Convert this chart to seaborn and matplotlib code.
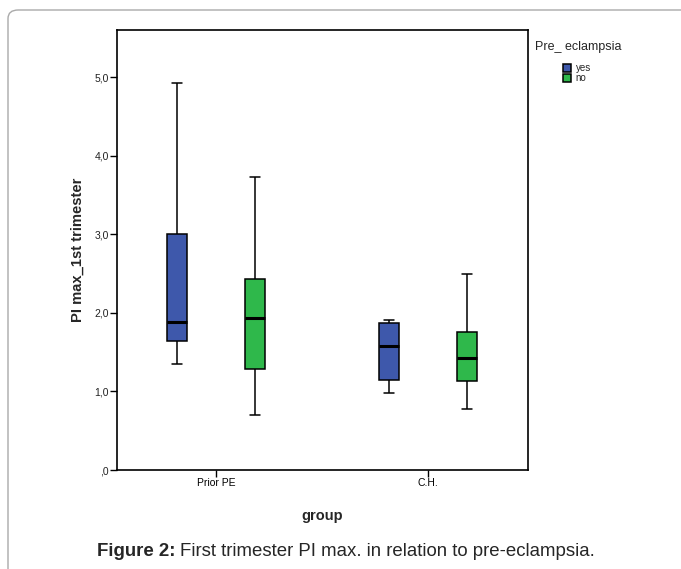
import numpy as np
import pandas as pd
import matplotlib
matplotlib.use("Agg")
import matplotlib.pyplot as plt
import seaborn as sns
from matplotlib.patches import FancyBboxPatch

# Data (min, Q1, median, Q3, max per box)
groups = ["Prior PE", "C.H."]
hue_levels = ["yes", "no"]
prior_yes = [1.35, 1.64, 1.89, 3.01, 4.92]
prior_no = [0.70, 1.29, 1.93, 2.43, 3.73]
ch_yes = [0.98, 1.15, 1.58, 1.87, 1.91]
ch_no = [0.78, 1.13, 1.42, 1.76, 2.49]
y_ticks = [0, 1, 2, 3, 4, 5]
y_tick_labels = [",0", "1,0", "2,0", "3,0", "4,0", "5,0"]
colors = {"yes": "#3E58AB", "no": "#2FB84B"}

rows = []
for g, h, vals in [("Prior PE", "yes", prior_yes), ("Prior PE", "no", prior_no),
                   ("C.H.", "yes", ch_yes), ("C.H.", "no", ch_no)]:
    for v in vals:
        rows.append({"group": g, "Pre_ eclampsia": h, "PI": v})
df = pd.DataFrame(rows)

sns.set_style("white")
plt.rcParams['font.family'] = ['Liberation Sans', 'DejaVu Sans']

W, H = 681, 569
fig = plt.figure(figsize=(W / 100, H / 100), dpi=100)
ax = fig.add_axes([117 / W, 1 - 470 / H, (528 - 117) / W, 440 / H])

sns.boxplot(data=df, x="group", y="PI", hue="Pre_ eclampsia",
            order=groups, hue_order=hue_levels, palette=colors,
            whis=np.inf, width=0.736, gap=0.74, dodge=True,
            linewidth=1.1, linecolor="black", saturation=1,
            medianprops=dict(linewidth=2.2, color="black"), ax=ax)

ax.set_xlim(-0.467, 1.472)
ax.set_ylim(0, 5.6)
ax.set_yticks(y_ticks, y_tick_labels)
ax.set_xticks([0, 1], groups)
for s in ax.spines.values():
    s.set_visible(True)
    s.set_color("black")
    s.set_linewidth(1.2)
ax.tick_params(axis="both", direction="out", length=5, width=1, colors="black",
               labelsize=7.5, pad=1, left=True, bottom=True)
ax.tick_params(axis="y", labelcolor="#222222")
ax.set_xlabel("group", fontsize=10.5, fontweight="bold")
ax.xaxis.set_label_coords((322 - 117) / 411, -(509 - 470) / 440)
ax.set_ylabel("PI max_1st trimester", fontsize=10.6, fontweight="bold")
ax.yaxis.set_label_coords((85 - 117) / 411, 0.5)

# legend
handles, labels = ax.get_legend_handles_labels()
ax.legend_.remove()
fig.text(535 / W, 1 - 47 / H, "Pre_ eclampsia", fontsize=9, va="center", ha="left")
fig.legend(handles, labels, loc="upper left", bbox_to_anchor=(563 / W, 1 - 63 / H),
           frameon=False, fontsize=7, handlelength=0.85, handleheight=0.85,
           handletextpad=0.45, labelspacing=0.05, borderpad=0, borderaxespad=0)

# border of the figure panel
fig.add_artist(FancyBboxPatch((8 / W, -0.2), 1.2, 1 - 10 / H + 0.2,
                              boxstyle="round,pad=0,rounding_size=0.015",
                              transform=fig.transFigure, fill=False,
                              edgecolor="#aaaaaa", linewidth=1))

# caption
t1 = fig.text(97 / W, 1 - 551 / H, "Figure 2:", fontsize=13.4, fontweight="bold",
              va="center", ha="left")
fig.canvas.draw()
bb = t1.get_window_extent()
fig.text((bb.x1 + 4) / W, 1 - 551 / H,
         "First trimester PI max. in relation to pre-eclampsia.",
         fontsize=13.4, va="center", ha="left")

fig.savefig("out.png", dpi=100)
